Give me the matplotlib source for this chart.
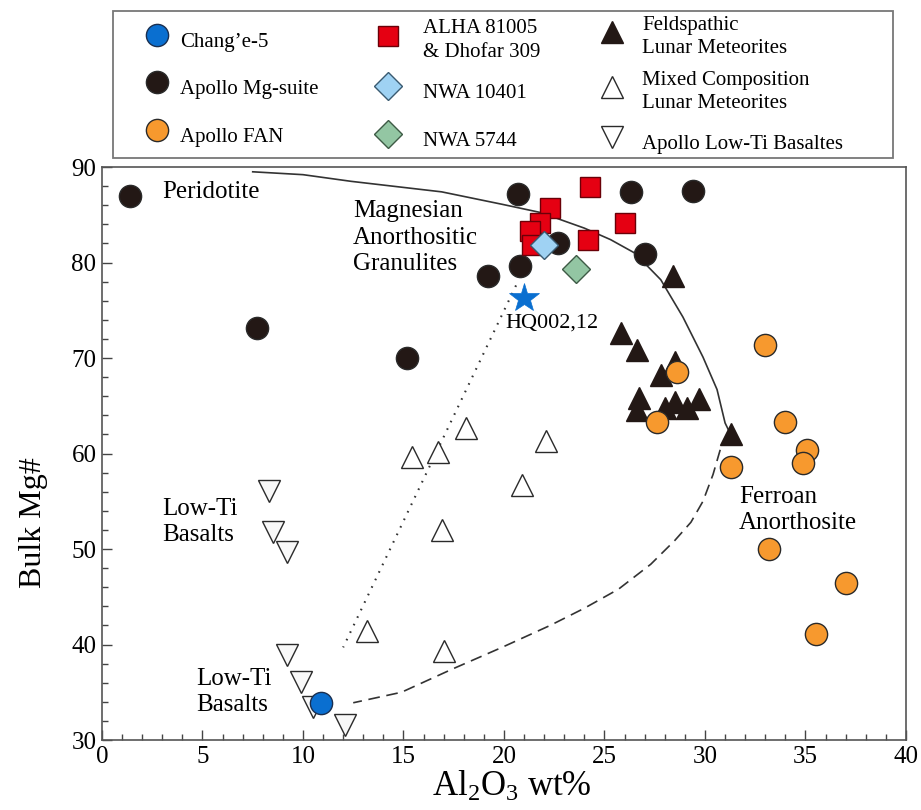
import matplotlib.pyplot as plt
from matplotlib.lines import Line2D
from matplotlib.patches import Rectangle
from matplotlib.ticker import MultipleLocator

plt.rcParams['font.family'] = ['Liberation Serif', 'DejaVu Serif']
plt.rcParams['mathtext.fontset'] = 'custom'
plt.rcParams['mathtext.rm'] = 'Liberation Serif'
plt.rcParams['mathtext.it'] = 'Liberation Serif:italic'

# data: (Al2O3 wt%, bulk Mg#)
ce5_x = [10.9]
ce5_y = [33.9]

mg_x = [1.4, 7.7, 15.2, 19.2, 20.8, 20.7, 22.7, 26.3, 29.4, 27.0]
mg_y = [87.0, 73.1, 70.0, 78.6, 79.6, 87.2, 82.0, 87.4, 87.5, 80.9]

fan_x = [28.6, 27.6, 33.0, 34.0, 35.1, 34.9, 31.3, 33.2, 37.0, 35.5]
fan_y = [68.5, 63.3, 71.4, 63.3, 60.4, 59.0, 58.6, 50.0, 46.4, 41.1]

alha_x = [24.3, 22.3, 21.8, 21.3, 21.4, 26.0, 24.2]
alha_y = [87.9, 85.7, 84.1, 83.3, 81.8, 84.1, 82.4]

nwa10401_x = [22.0]
nwa10401_y = [81.8]
nwa5744_x = [23.6]
nwa5744_y = [79.3]

feld_x = [28.4, 25.8, 26.6, 28.5, 27.8, 26.7, 26.6, 28.0, 28.5, 29.1, 29.7, 31.3]
feld_y = [78.6, 72.6, 70.8, 69.6, 68.2, 65.8, 64.6, 64.8, 65.4, 64.8, 65.7, 62.0]

mixed_x = [15.4, 16.7, 18.1, 22.1, 20.9, 16.9, 13.2, 17.0]
mixed_y = [59.6, 60.2, 62.7, 61.3, 56.7, 52.0, 41.4, 39.3]

lowti_x = [8.3, 8.5, 9.2, 9.2, 9.9, 10.5, 12.1]
lowti_y = [56.1, 51.8, 49.7, 38.9, 36.1, 33.5, 31.6]

hq_x = [21.0]
hq_y = [76.3]

# guide curves
solid_x = [7.5, 10.0, 12.4, 16.9, 19.9, 21.9, 22.8, 24.0, 25.3, 26.5, 27.8, 28.9, 29.9,
           30.6, 31.0, 31.3]
solid_y = [89.5, 89.2, 88.5, 87.4, 86.1, 85.2, 84.5, 83.6, 82.4, 81.0, 78.2, 74.3, 70.1,
           66.7, 63.2, 61.9]
dash_x = [31.3, 30.8, 30.4, 29.9, 29.3, 28.5, 27.3, 25.7, 24.0, 22.3, 19.9, 17.4, 14.9, 12.5]
dash_y = [61.9, 60.7, 57.8, 55.0, 52.8, 50.9, 48.4, 45.8, 43.8, 42.0, 39.7, 37.4, 35.0, 33.9]
dot_x = [20.6, 12.0]
dot_y = [77.6, 39.7]

c_blue = '#0a6fd0'
c_dark = '#231815'
c_orange = '#f7992e'
c_red = '#e50012'
c_lblue = '#9fd2f3'
c_green = '#93c6a3'
ec = '#2a2a2a'

fig = plt.figure(figsize=(9.21, 8.10), dpi=100)
ax = fig.add_axes([0.1107, 0.0864, 0.873, 0.7074])

ax.plot(solid_x, solid_y, color='#333333', lw=1.2, zorder=1)
ax.plot(dash_x, dash_y, color='#333333', lw=1.2, dashes=(7, 4), zorder=1)
ax.plot(dot_x, dot_y, color='#333333', lw=1.5, dashes=(0.8, 3.2), zorder=1)

ax.plot(mixed_x, mixed_y, '^', ms=16, mfc='white', mec=ec, mew=1, ls='none', zorder=2)
ax.plot(lowti_x, lowti_y, 'v', ms=16, mfc='#f8f8f8', mec=ec, mew=1, ls='none', zorder=2)
ax.plot(mg_x, mg_y, 'o', ms=16, mfc=c_dark, mec=ec, mew=1, ls='none', zorder=3)
ax.plot(feld_x, feld_y, '^', ms=16, mfc=c_dark, mec=c_dark, mew=1, ls='none', zorder=3)
ax.plot(fan_x, fan_y, 'o', ms=16, mfc=c_orange, mec=ec, mew=1, ls='none', zorder=4)
ax.plot(alha_x, alha_y, 's', ms=15, mfc=c_red, mec='#6a0008', mew=1, ls='none', zorder=4)
ax.plot(nwa10401_x, nwa10401_y, 'D', ms=14, mfc=c_lblue, mec='#3a5a70', mew=1, ls='none', zorder=5)
ax.plot(nwa5744_x, nwa5744_y, 'D', ms=14, mfc=c_green, mec='#3d5a45', mew=1, ls='none', zorder=5)
ax.plot(ce5_x, ce5_y, 'o', ms=16, mfc=c_blue, mec='#1a2f50', mew=1, ls='none', zorder=5)
ax.plot(hq_x, hq_y, '*', ms=22, mfc=c_blue, mec=c_blue, mew=0.5, ls='none', zorder=6)

fs = 18
ax.text(3.0, 87.4, 'Peridotite', fontsize=fs, va='center', ha='left')
ax.text(12.5, 82.6, 'Magnesian\nAnorthositic\nGranulites', fontsize=fs, va='center', ha='left',
        linespacing=1.25)
ax.text(22.4, 73.7, 'HQ002,12', fontsize=16, va='center', ha='center')
ax.text(3.0, 52.8, 'Low-Ti\nBasalts', fontsize=fs, va='center', ha='left', linespacing=1.25)
ax.text(4.7, 35.0, 'Low-Ti\nBasalts', fontsize=fs, va='center', ha='left', linespacing=1.25)
ax.text(31.7, 54.1, 'Ferroan\nAnorthosite', fontsize=fs, va='center', ha='left', linespacing=1.25)

ax.set_xlim(0, 40)
ax.set_ylim(30, 90)
ax.xaxis.set_major_locator(MultipleLocator(5))
ax.xaxis.set_minor_locator(MultipleLocator(1))
ax.yaxis.set_major_locator(MultipleLocator(10))
ax.yaxis.set_minor_locator(MultipleLocator(2))
ax.tick_params(which='both', direction='in', top=False, right=False, labelsize=18,
               colors='#444444', labelcolor='black')
ax.tick_params(which='major', length=7, width=1, pad=4)
ax.tick_params(which='minor', length=4, width=1)
for s in ax.spines.values():
    s.set_color('#555555')
    s.set_linewidth(1.2)
ax.set_xlabel('Al$_2$O$_3$ wt%', fontsize=25)
ax.set_ylabel('Bulk Mg#', fontsize=23)
ax.xaxis.set_label_coords(0.51, -0.052)
ax.yaxis.set_label_coords(-0.067, 0.38)

# legend: three columns inside one frame
fig.add_artist(Rectangle((0.1227, 0.805), 0.847, 0.1815, transform=fig.transFigure,
                         fill=False, edgecolor='#777777', lw=1.3))

col_handles = [
    [Line2D([], [], ls='none', marker='o', ms=16, mfc=c_blue, mec='#1a2f50'),
     Line2D([], [], ls='none', marker='o', ms=16, mfc=c_dark, mec=ec),
     Line2D([], [], ls='none', marker='o', ms=16, mfc=c_orange, mec=ec)],
    [Line2D([], [], ls='none', marker='s', ms=14.5, mfc=c_red, mec='#6a0008'),
     Line2D([], [], ls='none', marker='D', ms=14, mfc=c_lblue, mec='#3a5a70'),
     Line2D([], [], ls='none', marker='D', ms=14, mfc=c_green, mec='#3d5a45')],
    [Line2D([], [], ls='none', marker='^', ms=16, mfc=c_dark, mec=c_dark),
     Line2D([], [], ls='none', marker='^', ms=16, mfc='white', mec=ec),
     Line2D([], [], ls='none', marker='v', ms=16, mfc='white', mec=ec)],
]
col_labels = [
    ['Chang\u2019e-5', 'Apollo Mg-suite', 'Apollo FAN'],
    ['ALHA 81005\n& Dhofar 309', 'NWA 10401', 'NWA 5744'],
    ['Feldspathic\nLunar Meteorites', 'Mixed Composition\nLunar Meteorites',
     'Apollo Low-Ti Basaltes'],
]
col_x = [0.1592, 0.410, 0.6532]
col_pad = [0.6, 1.18, 0.94]
for hs, ls_, x0, tp in zip(col_handles, col_labels, col_x, col_pad):
    leg = fig.legend(hs, ls_, loc='center left', bbox_to_anchor=(x0, 0.8914),
                     fontsize=15, handleheight=2.2, handlelength=1.0, handletextpad=tp,
                     labelspacing=0.6, borderpad=0, borderaxespad=0, frameon=False)
    for t in leg.get_texts():
        t.set_linespacing(1.3)

fig.savefig('out.png', dpi=100)
